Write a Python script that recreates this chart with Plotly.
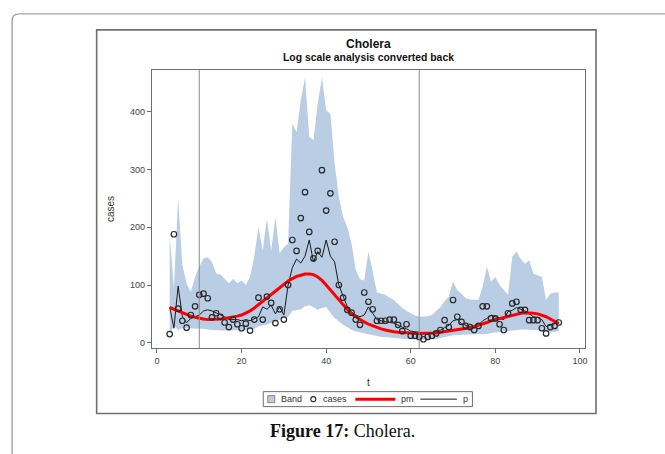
import plotly.graph_objects as go

# ---------------- data ----------------
t = list(range(3, 96))
cases = [15, 188, 59, 38, 26, 48, 63, 83, 85, 77,
         44, 51, 45, 35, 27, 40, 32, 25, 33, 21,
         40, 78, 40, 80, 69, 34, 58, 40, 100, 178,
         159, 216, 261, 192, 146, 159, 299, 229, 259, 175,
         100, 78, 57, 52, 40, 31, 87, 71, 58, 38,
         38, 38, 40, 40, 31, 20, 32, 12, 12, 10,
         6, 10, 12, 16, 22, 39, 27, 74, 45, 36,
         29, 27, 22, 29, 63, 63, 42, 42, 32, 22,
         51, 68, 71, 57, 57, 39, 39, 39, 25, 16,
         27, 29, 35]
p = [62, 25, 98, 45, 35, 42, 45, 48, 55, 57,
     55, 52, 48, 45, 40, 40, 40, 38, 40, 38,
     42, 45, 62, 58, 65, 50, 62, 48, 100, 130,
     145, 138, 150, 178, 140, 158, 148, 178, 150, 140,
     100, 80, 62, 53, 48, 45, 48, 62, 52, 40,
     38, 36, 35, 34, 30, 27, 24, 20, 19, 18,
     16, 16, 17, 19, 22, 26, 30, 38, 40, 33,
     30, 28, 25, 30, 38, 42, 48, 45, 42, 40,
     54, 56, 61, 58, 55, 50, 45, 44, 40, 28,
     30, 33, 35]
pm = [61, 58, 55, 51, 48, 46, 44, 42, 41, 40,
      40, 40, 41, 42, 43, 45, 46, 48, 51, 55,
      60, 66, 71, 77, 84, 90, 96, 102, 107, 111,
      115, 117, 119, 119, 118, 114, 108, 100, 91, 82,
      74, 66, 58, 50, 45, 40, 36, 32, 29, 26,
      24, 22, 20, 19, 18, 18, 17, 17, 16, 16,
      16, 16, 16, 17, 18, 19, 21, 22, 23, 24,
      25, 26, 28, 30, 33, 35, 38, 40, 42, 44,
      46, 48, 50, 51, 52, 52, 51, 50, 48, 45,
      41, 37, 33]
band_hi = [186, 95, 250, 135, 102, 88, 114, 132, 146, 148,
           140, 120, 118, 111, 103, 111, 103, 108, 100, 114,
           150, 200, 160, 215, 160, 218, 155, 165, 172, 380,
           365, 420, 460, 357, 351, 414, 460, 403, 397, 311,
           253, 218, 200, 172, 126, 110, 108, 158, 120, 88,
           85, 83, 78, 74, 67, 60, 55, 51, 47, 45,
           45, 46, 48, 55, 62, 72, 80, 106, 91, 85,
           77, 75, 74, 74, 97, 132, 106, 114, 100, 91,
           83, 149, 158, 145, 137, 143, 120, 117, 114, 74,
           85, 87, 87]
band_lo = [15, 30, 22, 25, 25, 25, 25, 24, 24, 23,
           22, 21, 21, 21, 21, 21, 21, 21, 22, 23,
           24, 28, 30, 33, 35, 36, 40, 42, 45, 55,
           57, 58, 63, 65, 62, 57, 60, 62, 52, 43,
           37, 31, 27, 22, 20, 18, 16, 15, 13, 12,
           10, 10, 9, 8, 8, 7, 6, 6, 5, 5,
           5, 5, 5, 6, 8, 10, 12, 13, 13, 14,
           14, 14, 14, 14, 15, 15, 17, 18, 18, 20,
           20, 22, 22, 23, 23, 22, 22, 22, 20, 18,
           18, 19, 20]
ref_lines = [10, 62]
x_ticks = [0, 20, 40, 60, 80, 100]
y_ticks = [0, 100, 200, 300, 400]
legend_labels = ["Band", "cases", "pm", "p"]

title = "Cholera"
subtitle = "Log scale analysis converted back"
caption_bold = "Figure 17:"
caption_rest = " Cholera."

# ---------------- layout geometry (pixels) ----------------
W, H = 665, 454
L, R, T, B = 152.3, 585.0, 69.7, 348.0
pw, ph = R - L, B - T


def fx(px):
    return (px - L) / pw


def fy(py):
    return (B - py) / ph


FONT = "Liberation Sans, Arial, sans-serif"
band_col = "#b9cde5"
mark_col = "#2a2a2a"
pm_col = "#ff0000"
p_col = "#1a1a1a"

fig = go.Figure()

fig.add_trace(go.Scatter(x=t, y=band_lo, mode="lines", line=dict(width=0, color=band_col),
                         showlegend=False, hoverinfo="skip"))
fig.add_trace(go.Scatter(x=t, y=band_hi, mode="lines", line=dict(width=0, color=band_col),
                         fill="tonexty", fillcolor=band_col, name="Band", showlegend=False))
fig.add_trace(go.Scatter(x=t, y=p, mode="lines", line=dict(width=1, color=p_col),
                         name="p", showlegend=False))
fig.add_trace(go.Scatter(x=t, y=pm, mode="lines", line=dict(width=3, color=pm_col),
                         name="pm", showlegend=False))
fig.add_trace(go.Scatter(x=t, y=cases, mode="markers",
                         marker=dict(symbol="circle-open", size=5.5, color=mark_col,
                                     line=dict(width=1.2, color=mark_col)),
                         name="cases", showlegend=False))

shapes = []
for rl in ref_lines:
    shapes.append(dict(type="line", xref="x", yref="paper", x0=rl, x1=rl, y0=0, y1=1,
                       line=dict(color="#8c8c8c", width=1), layer="above"))
# chart panel border
shapes.append(dict(type="rect", xref="paper", yref="paper",
                   x0=fx(97), x1=fx(596), y0=fy(413.5), y1=fy(29.5),
                   line=dict(color="#707070", width=1.6), layer="below"))
# outer rounded frame
r = 7
path = (f"M {fx(12.5)},{fy(460)} L {fx(12.5)},{fy(13.5 + r)} "
        f"Q {fx(12.5)},{fy(13.5)} {fx(12.5 + r)},{fy(13.5)} L {fx(670)},{fy(13.5)}")
shapes.append(dict(type="path", xref="paper", yref="paper", path=path,
                   line=dict(color="#9d9dcb", width=1.4), layer="below"))

# ---------- legend box (drawn) ----------
ly = 399.2
shapes.append(dict(type="rect", xref="paper", yref="paper",
                   x0=fx(263.5), x1=fx(472.5), y0=fy(406.7), y1=fy(391.7),
                   line=dict(color="#6e6e6e", width=1), fillcolor="white", layer="above"))
shapes.append(dict(type="rect", xref="paper", yref="paper",
                   x0=fx(268), x1=fx(275), y0=fy(ly + 3.5), y1=fy(ly - 3.5),
                   line=dict(color="#6e6e6e", width=0.8), fillcolor=band_col, layer="above"))
shapes.append(dict(type="circle", xref="paper", yref="paper",
                   x0=fx(311), x1=fx(316), y0=fy(ly + 2.5), y1=fy(ly - 2.5),
                   line=dict(color=mark_col, width=1.1), layer="above"))
shapes.append(dict(type="line", xref="paper", yref="paper",
                   x0=fx(355.5), x1=fx(395.5), y0=fy(ly), y1=fy(ly),
                   line=dict(color=pm_col, width=3), layer="above"))
shapes.append(dict(type="line", xref="paper", yref="paper",
                   x0=fx(420.5), x1=fx(457), y0=fy(ly), y1=fy(ly),
                   line=dict(color=p_col, width=1), layer="above"))

annotations = [
    dict(text=f"<b>{title}</b>", x=fx(368.5), y=fy(44), xref="paper", yref="paper",
         showarrow=False, font=dict(family=FONT, size=12, color="#111"),
         xanchor="center", yanchor="middle"),
    dict(text=f"<b>{subtitle}</b>", x=fx(368.5), y=fy(57.5), xref="paper", yref="paper",
         showarrow=False, font=dict(family=FONT, size=10.4, color="#111"),
         xanchor="center", yanchor="middle"),
    dict(text=f"<b>{caption_bold}</b>{caption_rest}", x=fx(342.5), y=fy(431.5), xref="paper",
         yref="paper", showarrow=False,
         font=dict(family="Liberation Serif, Times New Roman, serif", size=18, color="#111"),
         xanchor="center", yanchor="middle"),
]
for lab, lx in zip(legend_labels, [279.5, 321.5, 399, 461.5]):
    annotations.append(dict(text=lab, x=fx(lx), y=fy(ly), xref="paper", yref="paper",
                            showarrow=False, xanchor="left", yanchor="middle",
                            font=dict(family=FONT, size=9, color="#333")))

axis_common = dict(showline=True, linecolor="#6e6e6e", linewidth=1.2, mirror=True,
                   ticks="outside", ticklen=4, tickcolor="#6e6e6e", tickwidth=1,
                   showgrid=False, zeroline=False,
                   tickfont=dict(family=FONT, size=9, color="#444"))

fig.update_layout(
    width=W, height=H,
    margin=dict(l=L, r=W - R, t=T, b=H - B, pad=0),
    paper_bgcolor="white", plot_bgcolor="white",
    showlegend=False,
    xaxis=dict(range=[-1.18, 101.2], tickvals=x_ticks,
               title=dict(text="t", font=dict(family=FONT, size=10, color="#333"), standoff=14),
               **axis_common),
    yaxis=dict(range=[-9.2, 472.7], tickvals=y_ticks,
               title=dict(text="cases", font=dict(family=FONT, size=10, color="#333"), standoff=13),
               **axis_common),
    shapes=shapes,
    annotations=annotations,
)

fig.write_html("out.html")
